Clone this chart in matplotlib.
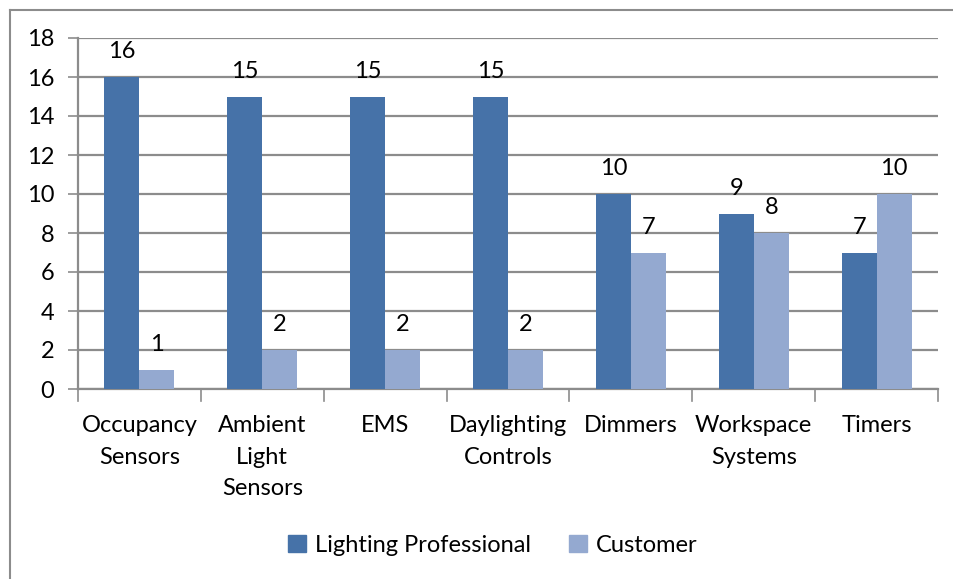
import matplotlib.pyplot as plt
import numpy as np
from matplotlib.patches import Patch
from matplotlib.lines import Line2D

plt.rcParams['font.family'] = ['Lato', 'DejaVu Sans']

categories = ['Occupancy\nSensors', 'Ambient\nLight\nSensors', 'EMS', 'Daylighting\nControls',
              'Dimmers', 'Workspace\nSystems', 'Timers']
professional = [16, 15, 15, 15, 10, 9, 7]
customer = [1, 2, 2, 2, 7, 8, 10]
series_names = ['Lighting Professional', 'Customer']

dark = '#4672A8'
light = '#94A9D0'
grid_color = '#8C8C8C'
fs = 17

W, H = 954, 579
fig = plt.figure(figsize=(W / 100, H / 100), dpi=100)

# plot area in pixel coordinates
left, right, top, bottom = 78, 938, 38, 389
ax = fig.add_axes([left / W, 1 - bottom / H, (right - left) / W, (bottom - top) / H])

x = np.arange(len(categories))
bw = 0.285
b1 = ax.bar(x - bw / 2, professional, bw, color=dark, zorder=3)
b2 = ax.bar(x + bw / 2, customer, bw, color=light, zorder=3)

for bars in (b1, b2):
    for rect in bars:
        h = rect.get_height()
        ax.text(rect.get_x() + rect.get_width() / 2, h + 0.75, f'{h:g}',
                ha='center', va='bottom', fontsize=fs)

ax.set_xlim(-0.5, len(categories) - 0.5)
ax.set_ylim(0, 18)
ax.set_yticks(range(0, 19, 2))
ax.yaxis.grid(True, color=grid_color, linewidth=1.6, zorder=0)
ax.tick_params(axis='y', length=7, width=1.2, color=grid_color, labelsize=fs, pad=10)

# category labels centered, ticks at group boundaries
ax.set_xticks(x)
ax.set_xticklabels(categories, fontsize=fs, linespacing=1.62, va='top')
ax.tick_params(axis='x', length=0, pad=19)
for b in np.arange(-0.5, len(categories), 1.0):
    ax.plot([b, b], [0, -0.6], color=grid_color, linewidth=1.2, clip_on=False, zorder=4)

for s in ('top', 'right'):
    ax.spines[s].set_visible(False)
for s in ('left', 'bottom'):
    ax.spines[s].set_color(grid_color)
    ax.spines[s].set_linewidth(1.6)

handles = [Patch(color=dark), Patch(color=light)]
fig.legend(handles, series_names, loc='center', bbox_to_anchor=(493 / W, 1 - 545 / H),
           ncol=2, frameon=False, fontsize=fs, handlelength=0.75, handleheight=0.75,
           handletextpad=0.4, columnspacing=1.6)

# chart border (top and left edges)
fig.add_artist(Line2D([10 / W, 1], [1 - 10 / H, 1 - 10 / H], color='#8C8C8C', linewidth=1.5))
fig.add_artist(Line2D([10 / W, 10 / W], [0, 1 - 10 / H], color='#8C8C8C', linewidth=1.5))

fig.savefig('out.png', dpi=100)
